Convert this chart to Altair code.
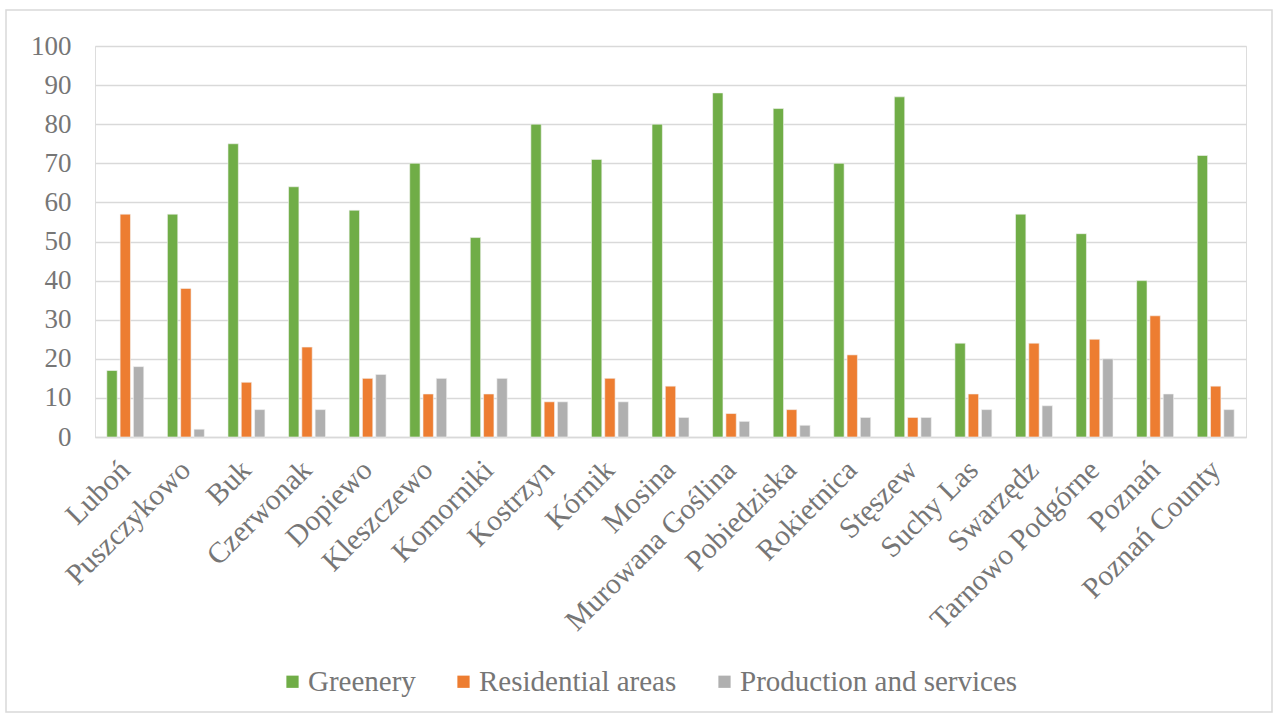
import altair as alt
import pandas as pd

categories = ["Luboń", "Puszczykowo", "Buk", "Czerwonak", "Dopiewo", "Kleszczewo",
              "Komorniki", "Kostrzyn", "Kórnik", "Mosina", "Murowana Goślina",
              "Pobiedziska", "Rokietnica", "Stęszew", "Suchy Las", "Swarzędz",
              "Tarnowo Podgórne", "Poznań", "Poznań County"]
greenery = [17, 57, 75, 64, 58, 70, 51, 80, 71, 80, 88, 84, 70, 87, 24, 57, 52, 40, 72]
residential = [57, 38, 14, 23, 15, 11, 11, 9, 15, 13, 6, 7, 21, 5, 11, 24, 25, 31, 13]
production = [18, 2, 7, 7, 16, 15, 15, 9, 9, 5, 4, 3, 5, 5, 7, 8, 20, 11, 7]
series = ["Greenery", "Residential areas", "Production and services"]
colors = ["#70AD47", "#ED7D31", "#B0B0B0"]

rows = []
for i, c in enumerate(categories):
    for s, vals in zip(series, [greenery, residential, production]):
        rows.append({"Municipality": c, "Series": s, "Value": vals[i]})
df = pd.DataFrame(rows)

FONT = "Liberation Serif"
TXT = "#767676"
GRID = "#D9D9D9"

bars = alt.Chart(df).mark_bar(stroke="#F4F4F4", strokeWidth=0.6).encode(
    x=alt.X("Municipality:N", sort=categories, title=None,
            scale=alt.Scale(paddingInner=0.39, paddingOuter=0.195),
            axis=alt.Axis(labelAngle=-45, labelFontSize=29.5, labelFont=FONT,
                          labelColor=TXT, ticks=False, domainColor=GRID,
                          domainWidth=1.5, labelPadding=28, labelOverlap=False,
                          labelLimit=0, labelAlign="right", labelBaseline="middle")),
    xOffset=alt.XOffset("Series:N", sort=series,
                        scale=alt.Scale(paddingInner=0.22)),
    y=alt.Y("Value:Q", title=None,
            scale=alt.Scale(domain=[0, 100], nice=False),
            axis=alt.Axis(values=list(range(0, 101, 10)), labelFontSize=27,
                          labelFont=FONT, labelColor=TXT, ticks=False,
                          domain=False, gridColor=GRID, gridWidth=1.5,
                          labelPadding=24)),
    color=alt.Color("Series:N", sort=series,
                    scale=alt.Scale(domain=series, range=colors),
                    legend=alt.Legend(title=None, orient="none", direction="horizontal",
                                      legendX=183, legendY=621, labelFont=FONT,
                                      labelFontSize=29, labelColor=TXT, labelLimit=0,
                                      symbolType="square", symbolSize=150,
                                      symbolStrokeWidth=0, labelOffset=1,
                                      columnPadding=33, padding=0)),
)

frame = alt.Chart(pd.DataFrame({"a": [0]})).mark_rect(
    fill=None, stroke=GRID, strokeWidth=1.5, clip=False
).encode(
    x=alt.value(-89), x2=alt.value(1177), y=alt.value(-36), y2=alt.value(666)
)

chart = alt.layer(frame, bars).properties(
    width=1151, height=391,
    padding={"left": 95, "top": 46, "right": 35, "bottom": 283},
    autosize="none",
).configure_view(stroke=None).configure(background="white", font=FONT)

chart.save("out.html", embed_options={"renderer": "svg", "actions": False})
